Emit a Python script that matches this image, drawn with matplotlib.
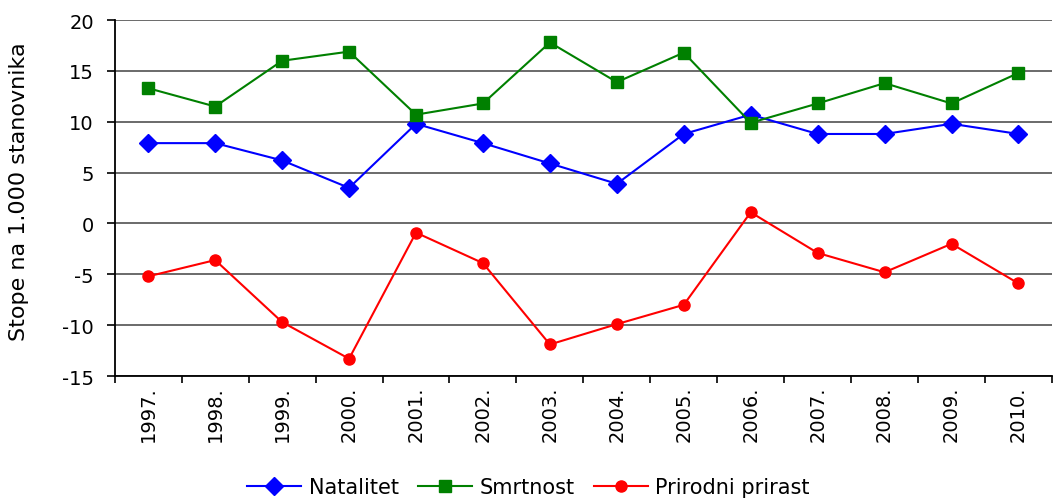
import matplotlib
matplotlib.use("Agg")
import matplotlib.pyplot as plt

years = ["1997.", "1998.", "1999.", "2000.", "2001.", "2002.", "2003.",
         "2004.", "2005.", "2006.", "2007.", "2008.", "2009.", "2010."]
natalitet = [7.9, 7.9, 6.2, 3.5, 9.8, 7.9, 5.9, 3.9, 8.8, 10.7, 8.8, 8.8, 9.8, 8.8]
smrtnost = [13.3, 11.5, 16.0, 16.9, 10.7, 11.8, 17.8, 13.9, 16.8, 9.9, 11.8, 13.8, 11.8, 14.8]
prirast = [-5.2, -3.6, -9.7, -13.3, -0.9, -3.9, -11.9, -9.9, -8.0, 1.1, -2.9, -4.8, -2.0, -5.9]
yticks = [-15, -10, -5, 0, 5, 10, 15, 20]

plt.rcParams['font.family'] = ['DejaVu Sans']

fig = plt.figure(figsize=(10.53, 5.02), dpi=100)
ax = fig.add_axes([0.109, 0.249, 0.89, 0.709])

x = list(range(len(years)))
ax.plot(x, natalitet, color='#0000FF', marker='D', markersize=9.5, lw=1.5, label='Natalitet', clip_on=False, zorder=3)
ax.plot(x, smrtnost, color='#008000', marker='s', markersize=8.5, lw=1.5, label='Smrtnost', clip_on=False, zorder=3)
ax.plot(x, prirast, color='#FF0000', marker='o', markersize=8, lw=1.5, label='Prirodni prirast', clip_on=False, zorder=3)

ax.set_xlim(-0.5, len(years) - 0.5)
ax.set_ylim(-15, 20)
ax.set_yticks(yticks)
ax.set_yticklabels([str(v) for v in yticks], fontsize=14)
ax.yaxis.grid(True, color='#6a6a6a', lw=1.4)
ax.set_axisbelow(True)

ax.set_xticks([i + 0.5 for i in range(-1, len(years))])
ax.set_xticklabels([])
ax.set_xticks(x, minor=True)
ax.set_xticklabels(years, minor=True, rotation=90, fontsize=14)
ax.tick_params(axis='x', which='minor', length=0, pad=7)
ax.tick_params(axis='x', which='major', length=5, width=1.2, direction='out', color='black')
ax.tick_params(axis='y', length=6, width=1.2, direction='out', color='black', pad=9)

for s in ['top', 'right']:
    ax.spines[s].set_visible(False)
ax.spines['left'].set_color('black')
ax.spines['bottom'].set_color('black')
ax.spines['left'].set_linewidth(1.3)
ax.spines['bottom'].set_linewidth(1.3)

ax.set_ylabel('Stope na 1.000 stanovnika', fontsize=16)
ax.yaxis.set_label_coords(-0.092, 0.52)

fig.legend(loc='center', bbox_to_anchor=(0.502, 0.028), ncol=3, frameon=False,
           fontsize=15, handlelength=2.6, columnspacing=0.9, handletextpad=0.37)

fig.savefig('out.png', dpi=100)
